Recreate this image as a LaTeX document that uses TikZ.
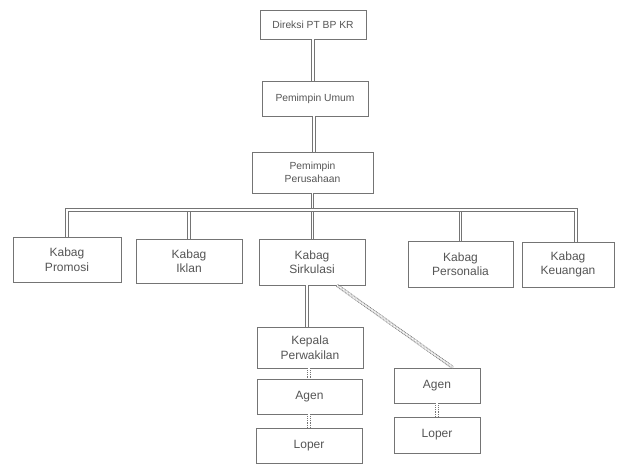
\documentclass[tikz,border=0pt]{standalone}
\usepackage{fontspec}
\setmainfont{Liberation Sans}
\definecolor{ink}{HTML}{747474}
\definecolor{txt}{HTML}{555555}
\begin{document}
\begin{tikzpicture}[x=1pt,y=-1pt,
  box/.style={draw=ink,line width=0.7pt,inner sep=1pt,align=center,text=txt,font=\fontsize{12}{14.5}\selectfont},
  topbox/.style={box,font=\fontsize{10.3}{13}\selectfont},
  link/.style={draw=ink,line width=0.75pt,double=white,double distance=1.6pt},
  dlink/.style={link,dash pattern=on 1pt off 0.8pt}]
\useasboundingbox[fill=white] (0,0) rectangle (618,464);
\node[topbox,minimum width=106pt,minimum height=29pt] (d) at (313,24.5) {Direksi PT BP KR};
\node[topbox,minimum width=106pt,minimum height=35pt] (pu) at (315,98.5) {Pemimpin Umum};
\node[topbox,minimum width=121pt,minimum height=41pt] (pp) at (312.5,172.5) {Pemimpin\\Perusahaan};
\node[box,minimum width=108pt,minimum height=45pt] (promosi) at (67,259.5) {Kabag\\Promosi};
\node[box,minimum width=106pt,minimum height=44pt] (iklan) at (189,261) {Kabag\\Iklan};
\node[box,minimum width=106pt,minimum height=46pt] (sirk) at (312,262) {Kabag\\Sirkulasi};
\node[box,minimum width=105pt,minimum height=46pt] (pers) at (460.5,264) {Kabag\\Personalia};
\node[box,minimum width=92pt,minimum height=45pt] (keu) at (568,264.5) {Kabag\\Keuangan};
\node[box,minimum width=106pt,minimum height=41pt] (kepala) at (310,347.5) {Kepala\\Perwakilan};
\node[box,minimum width=105pt,minimum height=35pt] (agenL) at (309.5,396.5) {Agen};
\node[box,minimum width=106pt,minimum height=35pt] (loperL) at (309,445.5) {Loper};
\node[box,minimum width=86pt,minimum height=35pt] (agenR) at (437,385.5) {Agen};
\node[box,minimum width=86pt,minimum height=36pt] (loperR) at (437,435) {Loper};
\coordinate (bus) at (313,210);
\coordinate (xa) at (314,0);
\coordinate (xb) at (307,0);
\coordinate (xc) at (309,0);
\draw[link] (d.south) -- (d.south |- pu.north);
\draw[link] (xa |- pu.south) -- (xa |- pp.north);
\draw[link] (pp.south) -- (pp.south |- sirk.north);
\draw[link] (iklan.north) -- (iklan.north |- bus);
\draw[link] (pers.north) -- (pers.north |- bus);
\draw[link] (promosi.north) -- (promosi.north |- bus) -- ([xshift=8pt]keu.north |- bus) -- ([xshift=8pt]keu.north);
\draw[link] (xb |- sirk.south) -- (xb |- kepala.north);
\draw[dlink] (xc |- kepala.south) -- (xc |- agenL.north);
\draw[dlink] (xc |- agenL.south) -- (xc |- loperL.north);
\draw[dlink] (agenR.south) -- (loperR.north);
\draw[dlink] ([xshift=25pt]sirk.south) -- ([xshift=16pt]agenR.north);
\end{tikzpicture}
\end{document}
